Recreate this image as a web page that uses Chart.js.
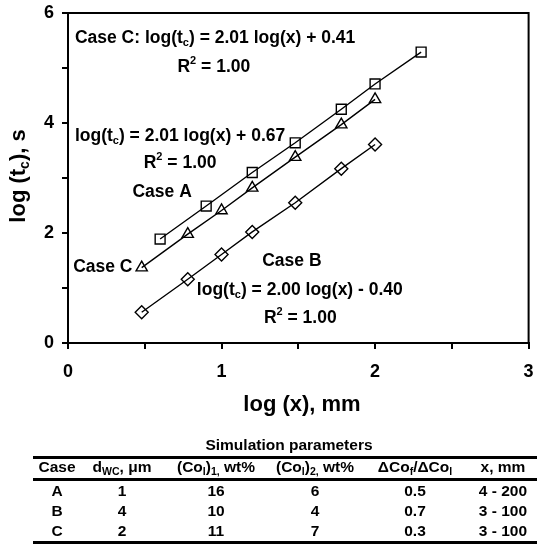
<!DOCTYPE html>
<html>
<head>
<meta charset="utf-8">
<script src="https://cdn.jsdelivr.net/npm/chart.js@4.4.1/dist/chart.umd.min.js"></script>
<style>
  html, body { margin: 0; padding: 0; background: #fff; }
  #wrap { position: relative; width: 537px; height: 544px; overflow: hidden;
          font-family: "Liberation Sans", Arial, sans-serif; font-weight: bold; color: #000; }
  #chart { position: absolute; left: 0; top: 0; }
  .cell { position: absolute; width: 140px; margin-left: -70px; text-align: center;
          font-size: 15.5px; line-height: 20px; height: 20px; white-space: nowrap; }
  .cell.title { width: 240px; margin-left: -120px; }
  .rule { position: absolute; left: 33px; right: 0; background: #000; }
  sub { font-size: 0.68em; vertical-align: -0.3em; line-height: 0; }
</style>
</head>
<body>
<div id="wrap">
  <canvas id="chart" width="537" height="544"></canvas>
  <div id="table"></div>
</div>
<script>
// log(x) in mm vs log(tc) in s
const caseALogX = [0.60, 0.90, 1.20, 1.48, 1.78, 2.00, 2.30];
const caseALogT = [1.89, 2.49, 3.10, 3.64, 4.25, 4.71, 5.29];
const caseBLogX = [0.48, 0.78, 1.00, 1.20, 1.48, 1.78, 2.00];
const caseBLogT = [0.56, 1.16, 1.61, 2.02, 2.55, 3.17, 3.61];
const caseCLogX = [0.48, 0.78, 1.00, 1.20, 1.48, 1.78, 2.00];
const caseCLogT = [1.37, 1.98, 2.41, 2.82, 3.38, 3.97, 4.43];

const xTickLabels = [0, 1, 2, 3];
const yTickLabels = [0, 2, 4, 6];

// simulation parameters table
const tableCases = ['A', 'B', 'C'];
const tableDwc = [1, 4, 2];
const tableCo1 = [16, 10, 11];
const tableCo2 = [6, 4, 7];
const tableRatio = ['0.5', '0.7', '0.3'];
const tableRange = ['4 - 200', '3 - 100', '3 - 100'];

const FONT = '"Liberation Sans", Arial, sans-serif';

function pts(xs, ys) {
  return xs.map((x, i) => ({ x: x, y: ys[i] }));
}

function series(label, xs, ys, style, r) {
  return {
    label: label,
    data: pts(xs, ys),
    showLine: true,
    borderColor: '#000',
    borderWidth: 1.4,
    pointStyle: style,
    pointRadius: r,
    pointBorderWidth: 1.4,
    pointBackgroundColor: 'rgba(0,0,0,0)',
    pointBorderColor: '#000'
  };
}

// text with sub/superscripts: parts = [[text, kind]]
function drawRich(ctx, parts, x, y, align, size) {
  const big = 'bold ' + size + 'px ' + FONT;
  const small = 'bold ' + Math.round(size * 0.62) + 'px ' + FONT;
  let total = 0;
  parts.forEach(p => {
    ctx.font = p[1] ? small : big;
    total += ctx.measureText(p[0]).width;
  });
  let cx = align === 'center' ? x - total / 2 : align === 'right' ? x - total : x;
  ctx.textAlign = 'left';
  ctx.textBaseline = 'middle';
  parts.forEach(p => {
    ctx.font = p[1] ? small : big;
    let dy = 0;
    if (p[1] === 'sub') dy = size * 0.3;
    if (p[1] === 'sup') dy = -size * 0.33;
    ctx.fillText(p[0], cx, y + dy);
    cx += ctx.measureText(p[0]).width;
  });
}

const notes = [
  { x: 0.045, y: 5.545, align: 'left', parts: [['Case C: log(t'], ['c', 'sub'], [') = 2.01 log(x) + 0.41']] },
  { x: 0.95, y: 5.02, align: 'center', parts: [['R'], ['2', 'sup'], [' = 1.00']] },
  { x: 0.045, y: 3.764, align: 'left', parts: [['log(t'], ['c', 'sub'], [') = 2.01 log(x) + 0.67']] },
  { x: 0.73, y: 3.27, align: 'center', parts: [['R'], ['2', 'sup'], [' = 1.00']] },
  { x: 0.613, y: 2.745, align: 'center', parts: [['Case A']] },
  { x: 0.42, y: 1.38, align: 'right', parts: [['Case C']] },
  { x: 1.458, y: 1.49, align: 'center', parts: [['Case B']] },
  { x: 1.51, y: 0.96, align: 'center', parts: [['log(t'], ['c', 'sub'], [') = 2.00 log(x) - 0.40']] },
  { x: 1.513, y: 0.455, align: 'center', parts: [['R'], ['2', 'sup'], [' = 1.00']] }
];

const decorations = {
  id: 'decorations',
  afterDraw(chart) {
    const ctx = chart.ctx;
    const a = chart.chartArea;
    const xs = chart.scales.x, ys = chart.scales.y;
    ctx.save();
    ctx.strokeStyle = '#000';
    ctx.lineWidth = 2;
    ctx.strokeRect(a.left, a.top, a.right - a.left, a.bottom - a.top);
    ctx.fillStyle = '#000';
    notes.forEach(n => {
      drawRich(ctx, n.parts, xs.getPixelForValue(n.x), ys.getPixelForValue(n.y), n.align, 17.5);
    });
    // axis titles
    drawRich(ctx, [['log (x), mm']], 302, 405, 'center', 22);
    ctx.translate(19, 176);
    ctx.rotate(-Math.PI / 2);
    drawRich(ctx, [['log (t'], ['c', 'sub'], ['), s']], 0, 0, 'center', 22);
    ctx.restore();
  }
};

const tickFont = { family: FONT, size: 18, weight: 'bold' };

new Chart(document.getElementById('chart'), {
  type: 'scatter',
  data: {
    datasets: [
      series('Case A', caseALogX, caseALogT, 'rect', 7),
      series('Case C', caseCLogX, caseCLogT, 'triangle', 6.5),
      series('Case B', caseBLogX, caseBLogT, 'rectRot', 6.5)
    ]
  },
  options: {
    responsive: false,
    animation: false,
    layout: { padding: { top: 13, right: 4, left: 0, bottom: 0 } },
    plugins: { legend: { display: false }, tooltip: { enabled: false } },
    scales: {
      x: {
        type: 'linear', min: 0, max: 3,
        ticks: {
          stepSize: 0.5, autoSkip: false, maxRotation: 0, padding: 12, color: '#000', font: tickFont,
          callback: v => xTickLabels.includes(v) ? String(v) : ''
        },
        grid: { drawOnChartArea: false, drawTicks: true, tickLength: 6, color: '#000', lineWidth: 2 },
        border: { color: '#000', width: 2 },
        afterFit: s => { s.height = 201; s.paddingLeft = 0; s.paddingRight = 0; }
      },
      y: {
        type: 'linear', min: 0, max: 6,
        ticks: {
          stepSize: 1, autoSkip: false, padding: 8, color: '#000', font: tickFont,
          callback: v => yTickLabels.includes(v) ? String(v) : ''
        },
        grid: { drawOnChartArea: false, drawTicks: true, tickLength: 6, color: '#000', lineWidth: 2 },
        border: { color: '#000', width: 2 },
        afterFit: s => { s.width = 68; s.paddingTop = 0; s.paddingBottom = 0; }
      }
    }
  },
  plugins: [decorations]
});

// table below the chart
const table = document.getElementById('table');
function cell(html, cx, cy, cls) {
  const d = document.createElement('div');
  d.className = 'cell' + (cls ? ' ' + cls : '');
  d.style.left = cx + 'px';
  d.style.top = (cy - 10) + 'px';
  d.innerHTML = html;
  table.appendChild(d);
}
function rule(y, h) {
  const d = document.createElement('div');
  d.className = 'rule';
  d.style.top = (y - h / 2) + 'px';
  d.style.height = h + 'px';
  table.appendChild(d);
}
const colX = [57, 122, 216, 315, 415, 503];
cell('Simulation parameters', 289, 445, 'title');
rule(457, 3);
rule(479, 3);
rule(542, 3);
const heads = ['Case', 'd<sub>WC</sub>, &mu;m', '(Co<sub>l</sub>)<sub>1,</sub> wt%', '(Co<sub>l</sub>)<sub>2,</sub> wt%',
               '&Delta;Co<sub>f</sub>/&Delta;Co<sub>l</sub>', 'x, mm'];
heads.forEach((h, i) => cell(h, colX[i], 467));
tableCases.forEach((c, r) => {
  const y = 491 + r * 20;
  [c, tableDwc[r], tableCo1[r], tableCo2[r], tableRatio[r], tableRange[r]]
    .forEach((v, i) => cell(String(v), colX[i], y));
});
</script>
</body>
</html>
